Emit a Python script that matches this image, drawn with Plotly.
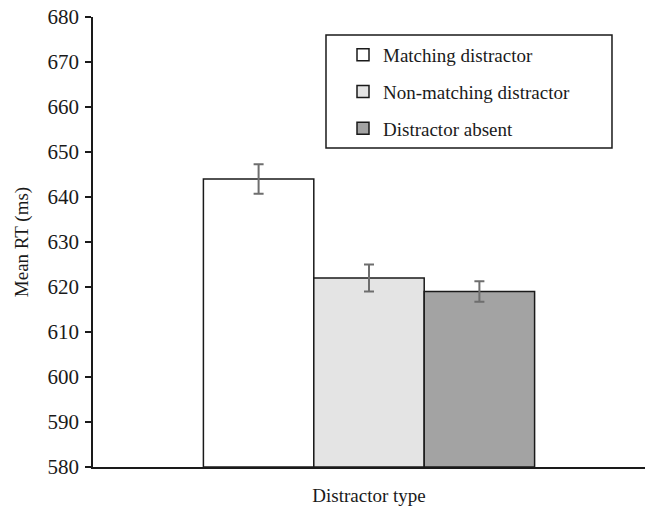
import plotly.graph_objects as go

categories = ["Distractor type"]
series_names = ["Matching distractor", "Non-matching distractor", "Distractor absent"]
means = [644, 622, 619]
errors = [3.3, 3.0, 2.3]
fills = ["#ffffff", "#e4e4e4", "#a3a3a3"]
y_ticks = [580, 590, 600, 610, 620, 630, 640, 650, 660, 670, 680]

fig = go.Figure()
for i, name in enumerate(series_names):
    fig.add_trace(go.Bar(
        x=[""], y=[means[i] - 580], base=580, name=name,
        marker=dict(color=fills[i], line=dict(color="#1a1a1a", width=1.5)),
        error_y=dict(type="data", array=[errors[i]], color="#6e6e6e", thickness=2, width=5),
        legendgroup=name,
    ))

font = "Liberation Serif, Times New Roman, serif"
# legend frame
fig.add_shape(type="rect", xref="paper", yref="paper",
              x0=0.4221, x1=0.9402, y0=0.7089, y1=0.96,
              line=dict(color="#1a1a1a", width=1.5), fillcolor="rgba(0,0,0,0)", layer="above")
fig.update_layout(
    width=646, height=509,
    margin=dict(l=93, r=1, t=17, b=42),
    paper_bgcolor="white", plot_bgcolor="white",
    barmode="group", bargap=0.4, bargroupgap=0,
    font=dict(family=font, size=19, color="#1a1a1a"),
    showlegend=True,
    legend=dict(
        x=0.4529, y=0.958, xanchor="left", yanchor="top",
        borderwidth=0, bgcolor="rgba(0,0,0,0)",
        font=dict(family=font, size=19), tracegroupgap=9,
        traceorder="grouped", itemwidth=30,
    ),
    xaxis=dict(
        showline=True, linecolor="#1a1a1a", linewidth=1.5,
        showticklabels=False, ticks="", showgrid=False,
        title=dict(text=categories[0], font=dict(family=font, size=19), standoff=21),
    ),
    yaxis=dict(
        range=[580, 680], tickvals=y_ticks, ticktext=[str(t) for t in y_ticks],
        showline=True, linecolor="#1a1a1a", linewidth=1.5,
        ticks="outside", ticklen=6, tickcolor="#1a1a1a", tickwidth=1.5,
        showgrid=False, zeroline=False, ticklabelstandoff=2,
        title=dict(text="Mean RT (ms)", font=dict(family=font, size=19), standoff=14),
        tickfont=dict(family=font, size=21),
    ),
)
fig.write_html("out.html")
